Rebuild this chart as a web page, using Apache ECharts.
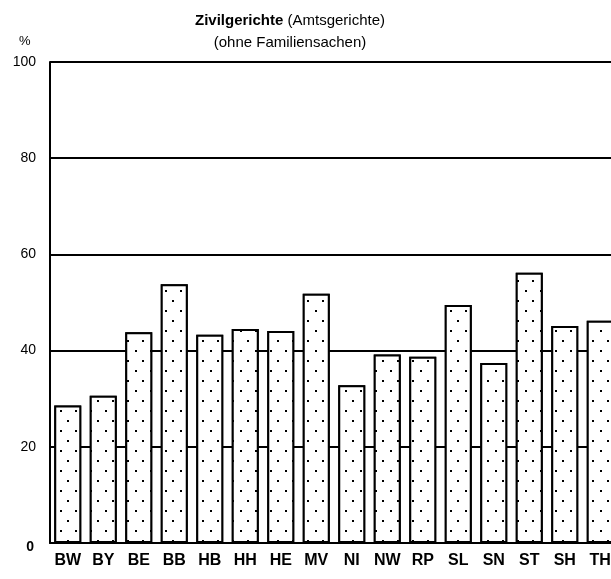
<!DOCTYPE html>
<html>
<head>
<meta charset="utf-8">
<script src="https://cdn.jsdelivr.net/npm/echarts@6/dist/echarts.min.js"></script>
<style>
  html, body { margin: 0; padding: 0; background: #fff; }
  #chart { width: 611px; height: 579px; }
</style>
</head>
<body>
<div id="chart"></div>
<script>
var laender = ['BW', 'BY', 'BE', 'BB', 'HB', 'HH', 'HE', 'MV', 'NI', 'NW', 'RP', 'SL', 'SN', 'ST', 'SH', 'TH'];
var anteil = [28.6, 30.6, 43.8, 53.8, 43.3, 44.5, 44.1, 51.8, 32.8, 39.2, 38.7, 49.5, 37.4, 56.2, 45.1, 46.2];
var yTicks = [0, 20, 40, 60, 80, 100];

var chart = echarts.init(document.getElementById('chart'));

// Punktraster wie im Original
var punkte = {
    symbol: 'rect',
    symbolSize: 1,
    dashArrayX: [[2, 13], [0, 7, 2, 6]],
    dashArrayY: [2, 8],
    color: '#000',
    backgroundColor: '#fff'
};

var option = {
    backgroundColor: '#fff',
    animation: false,
    title: {
        text: '{b|Zivilgerichte} (Amtsgerichte)\n(ohne Familiensachen)',
        left: 285,
        textAlign: 'center',
        top: 5,
        textStyle: {
            fontFamily: 'Liberation Sans',
            fontSize: 15,
            fontWeight: 'normal',
            color: '#000',
            lineHeight: 22,
            rich: {
                b: { fontFamily: 'Liberation Sans', fontSize: 15, fontWeight: 'bold', color: '#000' }
            }
        }
    },
    graphic: [{
        type: 'text',
        left: 19,
        top: 35,
        style: { text: '%', fontFamily: 'Liberation Sans', fontSize: 13, fill: '#000' }
    }],
    grid: { left: 50, top: 62, width: 568, height: 481, outerBoundsMode: 'none' },
    xAxis: {
        type: 'category',
        data: laender,
        axisLine: { lineStyle: { color: '#000', width: 2 } },
        axisTick: { show: false },
        axisLabel: {
            color: '#000',
            fontFamily: 'Liberation Sans',
            fontWeight: 'bold',
            fontSize: 16,
            margin: 10
        }
    },
    yAxis: {
        type: 'value',
        min: 0,
        max: 100,
        interval: 20,
        axisLine: { show: true, lineStyle: { color: '#000', width: 2 } },
        axisTick: { show: false },
        axisLabel: {
            color: '#000',
            fontFamily: 'Liberation Sans',
            fontSize: 14,
            margin: 14,
            formatter: function (v) {
                if (yTicks.indexOf(v) < 0) return '';
                return v === 0 ? '{z|0}' : String(v);
            },
            rich: {
                z: { fontFamily: 'Liberation Sans', fontSize: 14, fontWeight: 'bold', color: '#000', padding: [8, 2, 0, 0] }
            }
        },
        splitLine: { lineStyle: { color: '#000', width: 2 } }
    },
    series: [{
        type: 'bar',
        data: anteil,
        barWidth: 27,
        itemStyle: {
            color: '#fff',
            borderColor: '#000',
            borderWidth: 2,
            decal: punkte
        }
    }]
};

chart.setOption(option);
</script>
</body>
</html>
